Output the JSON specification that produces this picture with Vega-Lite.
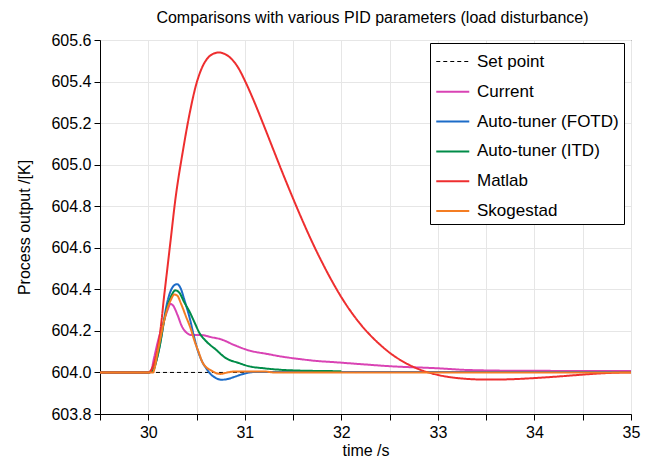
{
  "$schema": "https://vega.github.io/schema/vega-lite/v6.json",
  "autosize": {"type": "none"},
  "padding": {"left": 100, "top": 40, "right": 21, "bottom": 48},
  "width": 531,
  "height": 374,
  "title": {"text": "Comparisons with various PID parameters (load disturbance)", "anchor": "middle", "dx": 7, "offset": 6, "font": "Liberation Sans", "fontSize": 16, "fontWeight": "normal", "color": "black"},
  "config": {
    "view": {"stroke": "black", "strokeWidth": 1},
    "axis": {"labelFont": "Liberation Sans", "labelFontSize": 16, "labelColor": "black", "titleFont": "Liberation Sans", "titleFontSize": 16, "titleFontWeight": "normal", "titleColor": "black", "domainColor": "black", "tickColor": "black", "tickSize": 6, "labelPadding": 3, "gridColor": "#e6e6e6", "gridWidth": 1},
    "legend": {"labelFont": "Liberation Sans", "labelFontSize": 17, "labelColor": "black"}
  },
  "data": {"values": [
    {"series": "Set point", "t": 29.5, "v": 604.0},
    {"series": "Set point", "t": 35.0, "v": 604.0},

    {"series": "Current", "t": 29.5, "v": 604.0},
    {"series": "Current", "t": 30.0, "v": 604.0},
    {"series": "Current", "t": 30.03, "v": 604.01},
    {"series": "Current", "t": 30.06, "v": 604.07},
    {"series": "Current", "t": 30.1, "v": 604.15},
    {"series": "Current", "t": 30.15, "v": 604.23},
    {"series": "Current", "t": 30.2, "v": 604.3},
    {"series": "Current", "t": 30.23, "v": 604.33},
    {"series": "Current", "t": 30.26, "v": 604.32},
    {"series": "Current", "t": 30.3, "v": 604.28},
    {"series": "Current", "t": 30.35, "v": 604.22},
    {"series": "Current", "t": 30.4, "v": 604.19},
    {"series": "Current", "t": 30.45, "v": 604.18},
    {"series": "Current", "t": 30.55, "v": 604.18},
    {"series": "Current", "t": 30.65, "v": 604.17},
    {"series": "Current", "t": 30.75, "v": 604.16},
    {"series": "Current", "t": 30.9, "v": 604.13},
    {"series": "Current", "t": 31.05, "v": 604.105},
    {"series": "Current", "t": 31.22, "v": 604.09},
    {"series": "Current", "t": 31.4, "v": 604.075},
    {"series": "Current", "t": 31.56, "v": 604.065},
    {"series": "Current", "t": 31.75, "v": 604.055},
    {"series": "Current", "t": 31.91, "v": 604.05},
    {"series": "Current", "t": 32.2, "v": 604.04},
    {"series": "Current", "t": 32.5, "v": 604.03},
    {"series": "Current", "t": 33.0, "v": 604.02},
    {"series": "Current", "t": 33.3, "v": 604.012},
    {"series": "Current", "t": 33.85, "v": 604.008},
    {"series": "Current", "t": 35.0, "v": 604.007},

    {"series": "Auto-tuner (FOTD)", "t": 29.5, "v": 604.0},
    {"series": "Auto-tuner (FOTD)", "t": 30.0, "v": 604.0},
    {"series": "Auto-tuner (FOTD)", "t": 30.05, "v": 604.01},
    {"series": "Auto-tuner (FOTD)", "t": 30.08, "v": 604.05},
    {"series": "Auto-tuner (FOTD)", "t": 30.11, "v": 604.11},
    {"series": "Auto-tuner (FOTD)", "t": 30.15, "v": 604.21},
    {"series": "Auto-tuner (FOTD)", "t": 30.18, "v": 604.3},
    {"series": "Auto-tuner (FOTD)", "t": 30.23, "v": 604.39},
    {"series": "Auto-tuner (FOTD)", "t": 30.27, "v": 604.42},
    {"series": "Auto-tuner (FOTD)", "t": 30.3, "v": 604.425},
    {"series": "Auto-tuner (FOTD)", "t": 30.33, "v": 604.41},
    {"series": "Auto-tuner (FOTD)", "t": 30.38, "v": 604.34},
    {"series": "Auto-tuner (FOTD)", "t": 30.43, "v": 604.26},
    {"series": "Auto-tuner (FOTD)", "t": 30.47, "v": 604.18},
    {"series": "Auto-tuner (FOTD)", "t": 30.51, "v": 604.11},
    {"series": "Auto-tuner (FOTD)", "t": 30.55, "v": 604.06},
    {"series": "Auto-tuner (FOTD)", "t": 30.6, "v": 604.02},
    {"series": "Auto-tuner (FOTD)", "t": 30.65, "v": 603.99},
    {"series": "Auto-tuner (FOTD)", "t": 30.7, "v": 603.973},
    {"series": "Auto-tuner (FOTD)", "t": 30.76, "v": 603.965},
    {"series": "Auto-tuner (FOTD)", "t": 30.82, "v": 603.968},
    {"series": "Auto-tuner (FOTD)", "t": 30.9, "v": 603.98},
    {"series": "Auto-tuner (FOTD)", "t": 31.0, "v": 603.995},
    {"series": "Auto-tuner (FOTD)", "t": 31.1, "v": 604.002},
    {"series": "Auto-tuner (FOTD)", "t": 35.0, "v": 604.002},

    {"series": "Auto-tuner (ITD)", "t": 29.5, "v": 604.0},
    {"series": "Auto-tuner (ITD)", "t": 30.0, "v": 604.0},
    {"series": "Auto-tuner (ITD)", "t": 30.05, "v": 604.01},
    {"series": "Auto-tuner (ITD)", "t": 30.08, "v": 604.05},
    {"series": "Auto-tuner (ITD)", "t": 30.12, "v": 604.13},
    {"series": "Auto-tuner (ITD)", "t": 30.16, "v": 604.24},
    {"series": "Auto-tuner (ITD)", "t": 30.2, "v": 604.32},
    {"series": "Auto-tuner (ITD)", "t": 30.24, "v": 604.37},
    {"series": "Auto-tuner (ITD)", "t": 30.28, "v": 604.395},
    {"series": "Auto-tuner (ITD)", "t": 30.32, "v": 604.385},
    {"series": "Auto-tuner (ITD)", "t": 30.37, "v": 604.34},
    {"series": "Auto-tuner (ITD)", "t": 30.43, "v": 604.29},
    {"series": "Auto-tuner (ITD)", "t": 30.48, "v": 604.24},
    {"series": "Auto-tuner (ITD)", "t": 30.53, "v": 604.19},
    {"series": "Auto-tuner (ITD)", "t": 30.6, "v": 604.15},
    {"series": "Auto-tuner (ITD)", "t": 30.7, "v": 604.11},
    {"series": "Auto-tuner (ITD)", "t": 30.8, "v": 604.07},
    {"series": "Auto-tuner (ITD)", "t": 30.94, "v": 604.045},
    {"series": "Auto-tuner (ITD)", "t": 31.04, "v": 604.03},
    {"series": "Auto-tuner (ITD)", "t": 31.2, "v": 604.02},
    {"series": "Auto-tuner (ITD)", "t": 31.49, "v": 604.01},
    {"series": "Auto-tuner (ITD)", "t": 32.0, "v": 604.006},

    {"series": "Matlab", "t": 29.5, "v": 604.0},
    {"series": "Matlab", "t": 30.0, "v": 604.0},
    {"series": "Matlab", "t": 30.04, "v": 604.02},
    {"series": "Matlab", "t": 30.08, "v": 604.08},
    {"series": "Matlab", "t": 30.11, "v": 604.15},
    {"series": "Matlab", "t": 30.14, "v": 604.26},
    {"series": "Matlab", "t": 30.16, "v": 604.35},
    {"series": "Matlab", "t": 30.18, "v": 604.43},
    {"series": "Matlab", "t": 30.23, "v": 604.63},
    {"series": "Matlab", "t": 30.28, "v": 604.83},
    {"series": "Matlab", "t": 30.36, "v": 605.07},
    {"series": "Matlab", "t": 30.43, "v": 605.25},
    {"series": "Matlab", "t": 30.49, "v": 605.375},
    {"series": "Matlab", "t": 30.55, "v": 605.46},
    {"series": "Matlab", "t": 30.61, "v": 605.51},
    {"series": "Matlab", "t": 30.67, "v": 605.533},
    {"series": "Matlab", "t": 30.73, "v": 605.54},
    {"series": "Matlab", "t": 30.79, "v": 605.533},
    {"series": "Matlab", "t": 30.86, "v": 605.51},
    {"series": "Matlab", "t": 30.93, "v": 605.468},
    {"series": "Matlab", "t": 31.0, "v": 605.405},
    {"series": "Matlab", "t": 31.1, "v": 605.3},
    {"series": "Matlab", "t": 31.2, "v": 605.185},
    {"series": "Matlab", "t": 31.3, "v": 605.067},
    {"series": "Matlab", "t": 31.4, "v": 604.95},
    {"series": "Matlab", "t": 31.5, "v": 604.837},
    {"series": "Matlab", "t": 31.6, "v": 604.728},
    {"series": "Matlab", "t": 31.7, "v": 604.625},
    {"series": "Matlab", "t": 31.8, "v": 604.53},
    {"series": "Matlab", "t": 31.9, "v": 604.442},
    {"series": "Matlab", "t": 32.0, "v": 604.362},
    {"series": "Matlab", "t": 32.1, "v": 604.292},
    {"series": "Matlab", "t": 32.2, "v": 604.231},
    {"series": "Matlab", "t": 32.3, "v": 604.179},
    {"series": "Matlab", "t": 32.4, "v": 604.134},
    {"series": "Matlab", "t": 32.5, "v": 604.095},
    {"series": "Matlab", "t": 32.6, "v": 604.063},
    {"series": "Matlab", "t": 32.7, "v": 604.037},
    {"series": "Matlab", "t": 32.8, "v": 604.016},
    {"series": "Matlab", "t": 32.9, "v": 604.0},
    {"series": "Matlab", "t": 33.0, "v": 603.988},
    {"series": "Matlab", "t": 33.1, "v": 603.979},
    {"series": "Matlab", "t": 33.2, "v": 603.973},
    {"series": "Matlab", "t": 33.3, "v": 603.969},
    {"series": "Matlab", "t": 33.45, "v": 603.966},
    {"series": "Matlab", "t": 33.6, "v": 603.966},
    {"series": "Matlab", "t": 33.8, "v": 603.968},
    {"series": "Matlab", "t": 34.0, "v": 603.973},
    {"series": "Matlab", "t": 34.2, "v": 603.979},
    {"series": "Matlab", "t": 34.4, "v": 603.986},
    {"series": "Matlab", "t": 34.6, "v": 603.993},
    {"series": "Matlab", "t": 34.8, "v": 603.998},
    {"series": "Matlab", "t": 35.0, "v": 604.0},

    {"series": "Skogestad", "t": 29.5, "v": 604.0},
    {"series": "Skogestad", "t": 30.0, "v": 604.0},
    {"series": "Skogestad", "t": 30.05, "v": 604.0},
    {"series": "Skogestad", "t": 30.07, "v": 604.03},
    {"series": "Skogestad", "t": 30.09, "v": 604.08},
    {"series": "Skogestad", "t": 30.12, "v": 604.15},
    {"series": "Skogestad", "t": 30.16, "v": 604.24},
    {"series": "Skogestad", "t": 30.2, "v": 604.31},
    {"series": "Skogestad", "t": 30.23, "v": 604.345},
    {"series": "Skogestad", "t": 30.27, "v": 604.375},
    {"series": "Skogestad", "t": 30.3, "v": 604.37},
    {"series": "Skogestad", "t": 30.34, "v": 604.33},
    {"series": "Skogestad", "t": 30.39, "v": 604.27},
    {"series": "Skogestad", "t": 30.44, "v": 604.21},
    {"series": "Skogestad", "t": 30.48, "v": 604.15},
    {"series": "Skogestad", "t": 30.52, "v": 604.1},
    {"series": "Skogestad", "t": 30.56, "v": 604.05},
    {"series": "Skogestad", "t": 30.6, "v": 604.025},
    {"series": "Skogestad", "t": 30.65, "v": 604.01},
    {"series": "Skogestad", "t": 30.7, "v": 603.997},
    {"series": "Skogestad", "t": 30.75, "v": 603.993},
    {"series": "Skogestad", "t": 30.8, "v": 603.998},
    {"series": "Skogestad", "t": 30.9, "v": 604.005},
    {"series": "Skogestad", "t": 31.2, "v": 604.005},
    {"series": "Skogestad", "t": 31.3, "v": 604.0},
    {"series": "Skogestad", "t": 35.0, "v": 604.0}
  ]},
  "mark": {"type": "line", "clip": true, "interpolate": "monotone"},
  "encoding": {
    "x": {"field": "t", "type": "quantitative", "title": "time /s",
      "scale": {"domain": [29.5, 35], "nice": false, "zero": false},
      "axis": {"values": [29.5, 30, 30.5, 31, 31.5, 32, 32.5, 33, 33.5, 34, 34.5, 35], "labelExpr": "datum.value % 1 === 0 ? format(datum.value, 'd') : ''", "labelPadding": 4, "titlePadding": 2, "labelFlush": false}},
    "y": {"field": "v", "type": "quantitative", "title": "Process output /[K]",
      "scale": {"domain": [603.8, 605.6], "nice": false, "zero": false},
      "axis": {"values": [603.8, 604.0, 604.2, 604.4, 604.6, 604.8, 605.0, 605.2, 605.4, 605.6], "format": ".1f", "titleX": -68, "labelFlush": false}},
    "color": {"field": "series", "type": "nominal", "title": null,
      "scale": {"domain": ["Set point", "Current", "Auto-tuner (FOTD)", "Auto-tuner (ITD)", "Matlab", "Skogestad"], "range": ["#000000", "#d943b4", "#1c6cc8", "#008c48", "#ee2e2f", "#f47d23"]},
      "legend": {"orient": "none", "legendX": 330, "legendY": 3, "padding": 5, "strokeColor": "black", "fillColor": "white", "symbolType": "M-0.98,0H1.56", "symbolSize": 676, "rowPadding": 7.8, "labelOffset": 14, "symbolStrokeWidth": 2}},
    "strokeDash": {"field": "series", "type": "nominal", "title": null,
      "scale": {"domain": ["Set point", "Current", "Auto-tuner (FOTD)", "Auto-tuner (ITD)", "Matlab", "Skogestad"], "range": [[4, 3], [1, 0], [1, 0], [1, 0], [1, 0], [1, 0]]}},
    "strokeWidth": {"field": "series", "type": "nominal", "title": null,
      "scale": {"type": "ordinal", "domain": ["Set point", "Current", "Auto-tuner (FOTD)", "Auto-tuner (ITD)", "Matlab", "Skogestad"], "range": [1, 2, 2, 2, 2, 2]}}
  }
}
